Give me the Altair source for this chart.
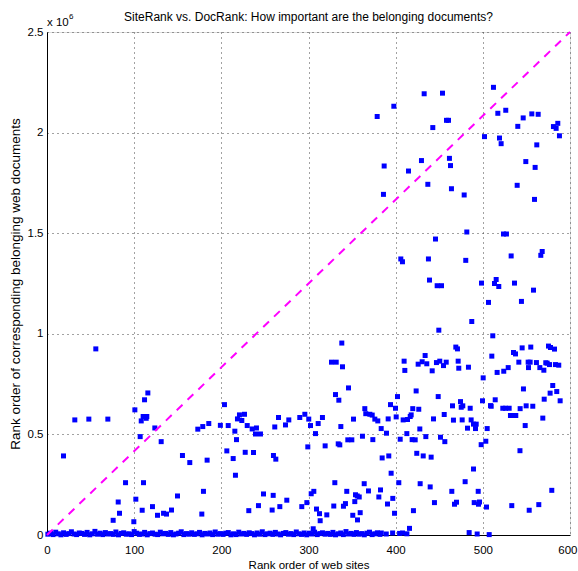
import altair as alt
import pandas as pd

# Scattered site/document rank pairs: site rank, document rank (millions)
site_rank = [
    378.8, 397.9, 432.7, 453.7, 442.6, 458.3, 460.6, 512.2, 517.2, 526.3,
    546.3, 556.2, 563.5, 540.1, 581.0, 584.1, 586.0, 587.9, 501.9, 519.1,
    521.0, 561.9, 386.8, 429.6, 414.7, 461.7, 462.9, 436.9, 464.0, 386.0,
    478.6, 549.3, 560.0, 539.4, 559.3,
    481.6, 445.7, 523.7, 527.1, 568.1, 566.5, 532.5, 405.9, 407.8, 437.6,
    480.4, 438.8, 447.6, 452.6, 498.5, 515.3, 513.4, 518.3, 536.3, 558.1,
    506.5, 544.3, 487.3, 449.5, 511.4, 469.0, 470.9, 433.8, 409.7, 410.5,
    425.8, 430.4, 435.7, 441.9, 446.8, 450.6, 454.9, 458.0, 471.7, 472.4,
    483.5, 500.4, 510.3, 516.4, 524.0, 529.1, 535.2, 537.5, 541.3, 545.1,
    552.0, 554.3, 555.0, 561.5, 552.4, 565.4, 570.0, 572.2, 573.8, 576.5,
    575.3, 577.6, 582.2, 583.3, 587.1,
    338.2, 326.4, 331.8, 339.0, 56.0,
    18.9, 31.9, 48.0, 69.8, 75.9, 81.7, 83.2, 90.1, 99.6, 100.8,
    101.9, 106.9, 108.1, 109.2, 110.7, 110.3, 114.5, 111.9, 115.7, 113.8,
    121.0, 123.7, 126.8, 131.0, 133.7, 137.1, 142.8, 149.7, 155.4, 163.8,
    173.0, 178.7, 185.6, 183.7, 179.5, 177.6, 198.9,
    203.6, 207.9, 206.3, 213.6, 215.5, 217.4, 216.2, 218.5, 220.8, 223.5,
    226.6, 229.7, 227.4, 231.5, 235.4, 240.3, 239.2, 244.9, 236.9, 242.6,
    248.4, 258.3, 259.5, 259.8, 262.5, 261.3, 265.6, 267.1, 273.6, 277.4,
    275.1, 290.0, 292.3, 295.8, 298.1, 299.2, 300.3, 302.3, 303.1, 306.1,
    305.4, 308.0, 309.2, 311.1, 312.6, 313.4, 316.0, 319.1, 321.0, 329.0,
    330.2, 331.0, 334.8, 334.1, 335.9, 337.1, 340.1, 342.4, 343.9, 345.1,
    349.7, 345.9, 351.6, 353.1, 353.9, 355.9, 358.2, 350.8, 356.2, 359.3,
    361.9, 363.9, 364.6, 365.7, 368.8, 370.4, 373.1, 373.8, 376.1, 379.5,
    380.7, 383.4, 384.5, 390.6, 391.4, 392.1,
    402.1, 394.1, 399.8, 423.5, 419.6, 426.5, 400.6, 408.6, 413.6, 416.7,
    417.8, 389.5, 405.2, 412.8, 418.9, 422.4, 427.7, 434.6, 443.4, 448.8,
    455.7, 451.4, 456.4, 465.2, 466.3, 474.4, 475.2, 477.0, 476.3, 482.4,
    485.5, 486.6, 489.3, 492.4, 491.6, 498.1, 499.6, 503.4, 505.0, 508.8,
    509.6, 514.2, 522.9, 526.0, 530.2, 531.7, 534.4, 537.8, 542.8, 546.6,
    549.7, 557.3, 548.6, 542.6, 570.4, 568.8, 577.2, 580.2, 584.8, 588.7,
    394.8, 403.6, 382.6, 396.7, 398.7, 420.4, 424.2, 431.6, 440.7, 428.1,
    439.6, 444.5, 464.4, 467.5, 469.8, 479.7, 489.3, 490.1, 494.7, 495.0,
    496.2, 504.2, 533.2, 553.2, 564.2, 579.1, 415.9,
    383.5, 389.2, 396.5, 404.5, 407.9, 412.9, 484.3, 493.5, 507.3,
]
doc_rank = [
    2.080, 2.131, 2.193, 2.196, 2.025, 2.061, 2.061, 2.225, 2.096, 2.111,
    2.073, 2.093, 2.091, 2.031, 2.030, 2.021, 2.046, 1.984, 1.980, 1.973,
    1.945, 1.939, 1.834, 1.861, 1.809, 1.872, 1.836, 1.743, 1.721, 1.693,
    1.690, 1.856, 1.827, 1.738, 1.668,
    1.506, 1.471, 1.496, 1.496, 1.409, 1.390, 1.387, 1.372, 1.358, 1.372,
    1.365, 1.267, 1.239, 1.239, 1.252, 1.270, 1.250, 1.235, 1.252, 1.217,
    1.156, 1.161, 1.061, 1.018, 0.990, 0.934, 0.925, 0.892, 0.864, 0.818,
    0.849, 0.861, 0.851, 0.816, 0.857, 0.864, 0.842, 0.859, 0.864, 0.829,
    0.834, 0.781, 0.889, 0.808, 0.814, 0.832, 0.907, 0.900, 0.859, 0.930,
    0.859, 0.859, 0.934, 0.857, 0.832, 0.832, 0.819, 0.856, 0.854, 0.847,
    0.939, 0.932, 0.924, 0.847, 0.844,
    0.954, 0.859, 0.859, 0.836, 0.925,
    0.393, 0.572, 0.576, 0.576, 0.073, 0.164, 0.108, 0.260, 0.066, 0.622,
    0.178, 0.489, 0.567, 0.123, 0.260, 0.589, 0.589, 0.672, 0.706, 0.580,
    0.141, 0.532, 0.098, 0.464, 0.108, 0.104, 0.124, 0.194, 0.395, 0.360,
    0.526, 0.539, 0.554, 0.372, 0.217, 0.104, 0.545,
    0.648, 0.544, 0.418, 0.380, 0.516, 0.474, 0.297, 0.577, 0.597, 0.569,
    0.600, 0.544, 0.411, 0.121, 0.527, 0.532, 0.502, 0.502, 0.410, 0.146,
    0.204, 0.124, 0.197, 0.395, 0.377, 0.537, 0.584, 0.141, 0.547, 0.572,
    0.173, 0.584, 0.141, 0.600, 0.161, 0.438, 0.576, 0.544, 0.205, 0.217,
    0.031, 0.504, 0.129, 0.554, 0.106, 0.071, 0.584, 0.443, 0.100, 0.144,
    0.260, 0.698, 0.670, 0.453, 0.448, 0.539, 0.143, 0.156, 0.217, 0.473,
    0.473, 0.731, 0.576, 0.166, 0.200, 0.194, 0.189, 0.098, 0.075, 0.111,
    0.491, 0.255, 0.628, 0.603, 0.219, 0.600, 0.596, 0.474, 0.576, 0.567,
    0.189, 0.529, 0.383, 0.154, 0.577, 0.393,
    0.688, 0.648, 0.630, 0.716, 0.628, 0.625, 0.587, 0.572, 0.574, 0.589,
    0.597, 0.506, 0.476, 0.504, 0.474, 0.473, 0.527, 0.489, 0.577, 0.688,
    0.599, 0.486, 0.464, 0.642, 0.571, 0.663, 0.635, 0.642, 0.572, 0.531,
    0.630, 0.572, 0.551, 0.551, 0.529, 0.449, 0.667, 0.466, 0.529, 0.643,
    0.640, 0.672, 0.630, 0.630, 0.630, 0.594, 0.594, 0.594, 0.628, 0.726,
    0.642, 0.640, 0.544, 0.419, 0.675, 0.581, 0.705, 0.743, 0.713, 0.667,
    0.307, 0.260, 0.224, 0.182, 0.108, 0.121, 0.406, 0.393, 0.387, 0.255,
    0.239, 0.161, 0.217, 0.153, 0.163, 0.265, 0.328, 0.161, 0.217, 0.153,
    0.164, 0.139, 0.146, 0.123, 0.151, 0.222, 0.033,
    0.010, 0.005, 0.010, 0.008, 0.010, 0.006, 0.012, 0.005, 0.002,
]

# Sites whose documents sit at the very top of the document ranking
band_site = [
    1, 4, 7, 10, 13, 16, 19, 22, 25, 28, 31, 34, 37, 40, 43, 46, 49, 52, 55, 58,
    61, 64, 67, 70, 73, 76, 79, 82, 85, 88, 91, 94, 97, 100, 103, 106, 109, 112,
    115, 118, 121, 124, 127, 130, 133, 136, 139, 142, 145, 148, 151, 154, 157,
    160, 163, 166, 169, 172, 175, 178, 181, 184, 187, 190, 193, 196, 199, 202,
    205, 208, 211, 214, 217, 220, 223, 226, 229, 232, 235, 238, 241, 244, 247,
    250, 253, 256, 259, 262, 265, 268, 271, 274, 277, 280, 283, 286, 289, 292,
    295, 298, 301, 304, 307, 310, 313, 316, 319, 322, 325, 328, 331, 334, 337,
    340, 343, 346, 349, 352, 355, 358, 361, 364, 367, 370, 373, 376, 379, 382,
]
band_doc_thousands = [
    4, 9, 2, 14, 6, 1, 11, 3, 7, 16,
    5, 2, 10, 8, 3, 13, 1, 6, 18, 4,
    9, 2, 12, 5, 7, 3, 15, 1, 8, 11,
    4, 6, 2, 17, 9, 3, 5, 13, 1, 7,
    10, 4, 2, 14, 6, 8, 3, 12, 1, 5,
    9, 16, 2, 7, 4, 11, 3, 6, 13, 1,
    8, 5, 10, 2, 15, 4, 7, 3, 9, 12,
    1, 6, 2, 14, 5, 8, 3, 11, 7, 1,
    10, 4, 16, 2, 6, 9, 3, 13, 5, 1,
    8, 12, 4, 7, 2, 15, 6, 3, 10, 1,
    9, 5, 14, 2, 7, 11, 4, 8, 3, 13,
    1, 6, 10, 2, 17, 5, 8, 3, 12, 4,
    7, 1, 9, 14, 2, 6, 11, 3,
]

# Reference diagonal (SiteRank == scaled DocRank)
diag_x = [0, 600]
diag_y = [0, 2.5]

x_ticks = [0, 100, 200, 300, 400, 500, 600]
y_ticks = [0, 0.5, 1, 1.5, 2, 2.5]

TITLE = "SiteRank vs. DocRank: How important are the belonging documents?"
FONT = "Liberation Sans"

points = pd.DataFrame({
    "site": site_rank + band_site,
    "doc": doc_rank + [v / 1000 for v in band_doc_thousands],
})
diag = pd.DataFrame({"site": diag_x, "doc": diag_y})

x_scale = alt.Scale(domain=[0, 600], nice=False, zero=False)
y_scale = alt.Scale(domain=[0, 2.5], nice=False, zero=False)

x_axis = alt.Axis(
    values=x_ticks, title="Rank order of web sites", grid=True,
    gridDash=[1, 4], gridColor="#444444", gridWidth=1,
    ticks=False, labelPadding=9, titlePadding=4,
    labelAlign={"condition": {"test": "datum.value == 600", "value": "right"},
                "value": "center"},
    labelOffset={"condition": {"test": "datum.value == 600", "value": 7},
                 "value": 0},
    labelFontSize=11.5, titleFontSize=11.5, titleFontWeight="normal",
    labelFont=FONT, titleFont=FONT, labelColor="black", titleColor="black",
    domainColor="black", labelFlush=False,
)
y_axis = alt.Axis(
    values=y_ticks, title="Rank order of corresponding belonging web documents",
    grid=True, gridDash=[1, 4], gridColor="#444444", gridWidth=1,
    ticks=False, labelPadding=4, titlePadding=5,
    labelExpr="datum.value + ''",
    labelFontSize=11.5, titleFontSize=13.5, titleFontWeight="normal",
    labelFont=FONT, titleFont=FONT, labelColor="black", titleColor="black",
    domainColor="black",
)

scatter = alt.Chart(points).mark_point(
    shape="square", filled=True, size=25, color="#0000ff", opacity=1
).encode(
    x=alt.X("site:Q", scale=x_scale, axis=x_axis),
    y=alt.Y("doc:Q", scale=y_scale, axis=y_axis),
)

diagonal = alt.Chart(diag).mark_line(
    color="#ff00ff", strokeWidth=2, strokeDash=[8, 7]
).encode(
    x=alt.X("site:Q", scale=x_scale),
    y=alt.Y("doc:Q", scale=y_scale),
)

# Exponent marker for the y axis and the chart heading, anchored to the top edge
corner = pd.DataFrame({"site": [0], "doc": [2.5]})
top_mid = pd.DataFrame({"site": [300], "doc": [2.5]})

exponent = alt.Chart(corner).mark_text(
    text="x 10", align="left", baseline="alphabetic", dx=0, dy=-6,
    fontSize=11.5, font=FONT, color="black"
).encode(x=alt.X("site:Q", scale=x_scale), y=alt.Y("doc:Q", scale=y_scale))
exponent_sup = alt.Chart(corner).mark_text(
    text="6", align="left", baseline="alphabetic", dx=22, dy=-13,
    fontSize=8, font=FONT, color="black"
).encode(x=alt.X("site:Q", scale=x_scale), y=alt.Y("doc:Q", scale=y_scale))
heading = alt.Chart(top_mid).mark_text(
    text=TITLE, align="center", baseline="alphabetic", dy=-11,
    fontSize=12, font=FONT, color="black"
).encode(x=alt.X("site:Q", scale=x_scale), y=alt.Y("doc:Q", scale=y_scale))

chart = alt.layer(scatter, diagonal, exponent, exponent_sup, heading).properties(
    width=523,
    height=503,
    autosize=alt.AutoSizeParams(type="none"),
    padding={"left": 47, "top": 32, "right": 8, "bottom": 36},
).configure_view(stroke="black", strokeWidth=1).configure(background="white")

chart.save("out.html", embed_options={"renderer": "svg", "actions": False})
